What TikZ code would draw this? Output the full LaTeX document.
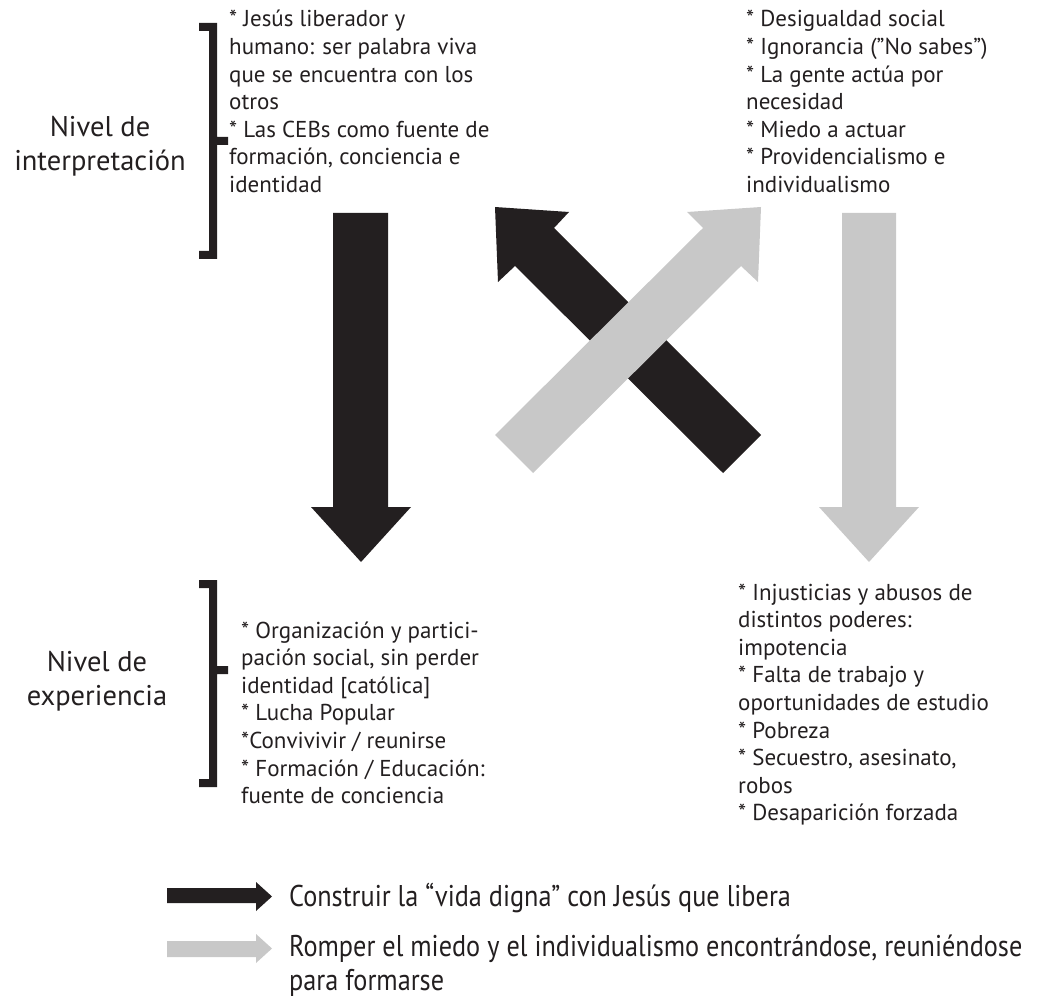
\documentclass[tikz,border=0pt]{standalone}
\usepackage{fontspec}
\setmainfont{PT Sans}
\newfontfamily\legfont[FakeStretch=0.875]{PT Sans}
\definecolor{ink}{HTML}{231F20}
\definecolor{mist}{HTML}{C8C8C8}
\newcommand\bodyfont{\fontsize{23}{27.6}\selectfont}
\newcommand\levelfont{\fontsize{28.5}{34}\selectfont}
\newcommand\keyfont{\legfont\fontsize{30}{34}\selectfont}
\newcommand\lblock[1]{\begin{tabular}[t]{@{}l@{}}#1\end{tabular}}
\newcommand\cblock[1]{\begin{tabular}[t]{@{}c@{}}#1\end{tabular}}
% a line break that never swallows a following asterisk
\newcommand\nl{\\{}}
\begin{document}
\begin{tikzpicture}[x=1pt,y=-1pt,
  txt/.style={inner sep=0pt,anchor=base west,text=ink,font=\bodyfont},
  level/.style={inner sep=0pt,anchor=base,text=ink,font=\levelfont},
  keytxt/.style={inner sep=0pt,anchor=base west,text=ink,font=\keyfont},
  dark/.style={fill=ink,draw=none},
  light/.style={fill=mist,draw=none},
  brace/.style={fill=ink,draw=none}]
\useasboundingbox (0,0) rectangle (1038,1000);

% level labels
\node[level] (interp) at (100,137) {\cblock{Nivel de\nl interpretación}};
\node[level] (exper)  at (97,671) {\cblock{Nivel de\nl experiencia}};

% square brackets
\path[brace] (199,23) -- (217,23) -- (217,137) -- (228,137) -- (228,145) -- (217,145)
  -- (217,259) -- (199,259) -- (199,251) -- (209,251) -- (209,31) -- (199,31) -- cycle;
\path[brace] (199,580) -- (217,580) -- (217,666) -- (228,666) -- (228,674) -- (217,674)
  -- (217,787) -- (199,787) -- (199,779) -- (209,779) -- (209,588) -- (199,588) -- cycle;

% text blocks
\node[txt] (interpitems) at (229,27) {\lblock{* Jesús liberador y\nl humano: ser palabra viva\nl que se encuentra con los\nl otros\nl * Las CEBs como fuente de\nl formación, conciencia e\nl identidad}};
\node[txt] (causes) at (746,27) {\lblock{* Desigualdad social\nl * Ignorancia (”No sabes”)\nl * La gente actúa por\nl necesidad\nl * Miedo a actuar\nl * Providencialismo e\nl individualismo}};
\node[txt] (expitems) at (241,638) {\lblock{* Organización y partici-\nl pación social, sin perder\nl identidad [católica]\nl * Lucha Popular\nl *Convivivir / reunirse\nl * Formación / Educación:\nl fuente de conciencia}};
\node[txt] (effects) at (738,600) {\lblock{* Injusticias y abusos de\nl distintos poderes:\nl impotencia\nl * Falta de trabajo y\nl oportunidades de estudio\nl * Pobreza\nl * Secuestro, asesinato,\nl robos\nl * Desaparición forzada}};

% vertical block arrows
\path[dark] (333,213) -- (388,213) -- (388,507) -- (411,507) -- (361,562) -- (311,507) -- (333,507) -- cycle;
\path[light] (842,213) -- (896,213) -- (896,507) -- (919,507) -- (869,562) -- (819,507) -- (842,507) -- cycle;

% crossed diagonal arrows
\path[dark] (761,435) -- (554,228) -- (569,212) -- (495,207) -- (498,282) -- (515,266) -- (723,473) -- cycle;
\path[light] (495,435) -- (703,228) -- (687,212) -- (761,207) -- (758,282) -- (741,266) -- (533,473) -- cycle;

% legend
\path[dark] (167,888) -- (256,888) -- (256,882) -- (272,896.5) -- (256,911) -- (256,903) -- (167,903) -- cycle;
\path[light] (167,941) -- (256,941) -- (256,934) -- (272,948.5) -- (256,963) -- (256,957) -- (167,957) -- cycle;
\node[keytxt] (keyone) at (289,906) {Construir la “vida digna” con Jesús que libera};
\node[keytxt] (keytwo) at (289,956) {\lblock{Romper el miedo y el individualismo encontrándose, reuniéndose\nl para formarse}};
\end{tikzpicture}
\end{document}
